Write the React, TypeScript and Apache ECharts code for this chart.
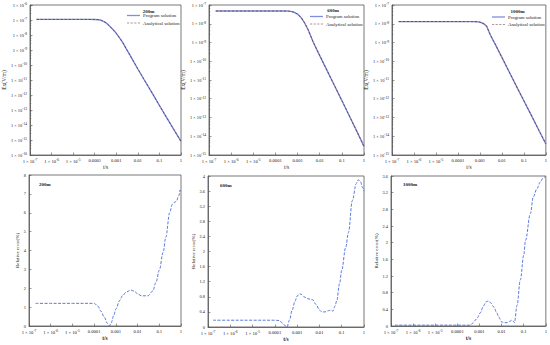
import React, { useEffect, useRef } from 'react';
import * as echarts from 'echarts';

// ---------- data ----------
const tEx = [2e-7, 1e-6, 1e-5, 5e-5, 1e-4, 1.5e-4, 2e-4, 3e-4, 4e-4, 5e-4, 7e-4, 1e-3, 1.5e-3, 2e-3, 3e-3, 4e-3, 5e-3, 1e-2, 2e-2, 5e-2, 0.1, 0.2, 0.5, 1];

const exProgram200 = [1.1e-7, 1.1e-7, 1.1e-7, 1.1e-7, 1.09e-7, 1.05e-7, 9.6e-8, 7.2e-8, 5.2e-8, 3.8e-8, 2.3e-8, 1.3e-8, 5.8e-9, 3.1e-9, 1.1e-9, 5.5e-10, 3.1e-10, 5.4e-11, 1.0e-11, 1.1e-12, 2.0e-13, 3.7e-14, 4.2e-15, 8.0e-16];
const exAnalytical200 = [1.1e-7, 1.1e-7, 1.1e-7, 1.1e-7, 1.09e-7, 1.05e-7, 9.6e-8, 7.2e-8, 5.2e-8, 3.8e-8, 2.3e-8, 1.3e-8, 5.8e-9, 3.1e-9, 1.1e-9, 5.5e-10, 3.1e-10, 5.4e-11, 1.0e-11, 1.1e-12, 2.0e-13, 3.7e-14, 4.2e-15, 8.0e-16];

const exProgram600 = [4.8e-8, 4.8e-8, 4.8e-8, 4.8e-8, 4.8e-8, 4.8e-8, 4.8e-8, 4.75e-8, 4.7e-8, 4.55e-8, 4.1e-8, 3.3e-8, 2.0e-8, 1.2e-8, 4.8e-9, 2.1e-9, 1.1e-9, 2.0e-10, 3.8e-11, 4.2e-12, 8.0e-13, 1.5e-13, 1.6e-14, 2.9e-15];
const exAnalytical600 = [4.8e-8, 4.8e-8, 4.8e-8, 4.8e-8, 4.8e-8, 4.8e-8, 4.8e-8, 4.75e-8, 4.7e-8, 4.55e-8, 4.1e-8, 3.3e-8, 2.0e-8, 1.2e-8, 4.8e-9, 2.1e-9, 1.1e-9, 2.0e-10, 3.8e-11, 4.2e-12, 8.0e-13, 1.5e-13, 1.6e-14, 2.9e-15];

const exProgram1000 = [1.3e-8, 1.3e-8, 1.3e-8, 1.3e-8, 1.3e-8, 1.3e-8, 1.3e-8, 1.3e-8, 1.3e-8, 1.3e-8, 1.29e-8, 1.22e-8, 1.0e-8, 7.5e-9, 2.5e-9, 1.3e-9, 8.0e-10, 1.6e-10, 3.2e-11, 3.8e-12, 7.8e-13, 1.6e-13, 1.9e-14, 3.9e-15];
const exAnalytical1000 = [1.3e-8, 1.3e-8, 1.3e-8, 1.3e-8, 1.3e-8, 1.3e-8, 1.3e-8, 1.3e-8, 1.3e-8, 1.3e-8, 1.29e-8, 1.22e-8, 1.0e-8, 7.5e-9, 2.5e-9, 1.3e-9, 8.0e-10, 1.6e-10, 3.2e-11, 3.8e-12, 7.8e-13, 1.6e-13, 1.9e-14, 3.9e-15];

const tErr200 = [2e-7, 1e-6, 1e-5, 1e-4, 1.5e-4, 2e-4, 3e-4, 4e-4, 5e-4, 6e-4, 8e-4, 1e-3, 1.5e-3, 2e-3, 3e-3, 5e-3, 7e-3, 1e-2, 1.5e-2, 2e-2, 3e-2, 5e-2, 7e-2, 0.1, 0.15, 0.2, 0.3, 0.4, 0.5, 0.6, 0.8, 0.9, 1];
const err200 = [1.2, 1.2, 1.2, 1.2, 1.05, 0.8, 0.45, 0.15, 0.0, 0.15, 0.55, 0.9, 1.35, 1.6, 1.8, 1.9, 1.85, 1.7, 1.6, 1.6, 1.6, 1.85, 2.3, 2.95, 3.9, 4.7, 6.0, 6.45, 6.55, 6.6, 6.9, 7.2, 7.1];

const tErr600 = [1.7e-7, 1e-6, 1e-5, 1e-4, 1.6e-4, 2.2e-4, 3e-4, 3.5e-4, 4.5e-4, 6e-4, 8e-4, 1e-3, 1.3e-3, 1.6e-3, 2e-3, 3e-3, 5e-3, 7e-3, 1e-2, 1.3e-2, 1.8e-2, 2.5e-2, 3.3e-2, 4e-2, 5e-2, 6e-2, 8e-2, 0.1, 0.15, 0.2, 0.3, 0.45, 0.55, 0.7, 0.85, 1];
const err600 = [0.18, 0.18, 0.18, 0.18, 0.17, 0.1, 0.03, 0.0, 0.18, 0.45, 0.68, 0.82, 0.88, 0.86, 0.8, 0.75, 0.72, 0.6, 0.45, 0.4, 0.4, 0.43, 0.45, 0.42, 0.55, 0.7, 1.15, 1.5, 2.1, 2.5, 3.35, 3.8, 3.9, 3.85, 3.7, 3.6];

const tErr1000 = [1.5e-7, 1e-6, 1e-5, 1e-4, 3.8e-4, 5e-4, 6.5e-4, 8e-4, 1.1e-3, 1.5e-3, 2e-3, 2.5e-3, 3e-3, 4.4e-3, 6e-3, 7.3e-3, 1e-2, 1.3e-2, 1.8e-2, 2.3e-2, 2.9e-2, 3.3e-2, 3.8e-2, 5e-2, 7e-2, 0.1, 0.12, 0.2, 0.27, 0.4, 0.55, 0.75, 1];
const err1000 = [0.02, 0.02, 0.02, 0.02, 0.02, 0.07, 0.14, 0.2, 0.32, 0.48, 0.58, 0.6, 0.57, 0.46, 0.32, 0.22, 0.1, 0.08, 0.08, 0.11, 0.14, 0.12, 0.08, 0.5, 1.1, 1.7, 2.05, 2.7, 3.1, 3.3, 3.45, 3.55, 3.6];

const offsetLabels = ['200m', '600m', '1000m'];
const legendNames = ['Program solution', 'Analytical solution'];
const xTickLabelsPlain = ['0.0001', '0.001', '0.01', '0.1', '1'];

// ---------- helpers ----------
const FONT = '"Liberation Serif", "Times New Roman", serif';
const pair = (t: number[], v: number[]) => t.map((x, i) => [x, v[i]]);

const supRich = {
  sup: { fontSize: 3.6, verticalAlign: 'top', padding: [0, 0, 2, 0], fontFamily: FONT, color: '#222' },
};

const xFormatter = (v: number) => {
  const e = Math.round(Math.log10(v));
  if (e >= -4) return xTickLabelsPlain[e + 4];
  return `1 × 10{sup|${e}}`;
};
const yLogFormatter = (v: number) => {
  const e = Math.round(Math.log10(v));
  return `1 × 10{sup|${e}}`;
};

export default function App() {
  const ref = useRef<HTMLDivElement>(null);
  useEffect(() => {
    if (!ref.current) return;
    const chart = echarts.init(ref.current, undefined, { renderer: 'svg' });

    const topGrids = [
      { left: 30, top: 5, width: 151, height: 150 },
      { left: 209, top: 5, width: 155, height: 150 },
      { left: 392, top: 5, width: 155, height: 150 },
    ];
    const botGrids = [
      { left: 29, top: 175, width: 152, height: 151 },
      { left: 208, top: 176, width: 156, height: 151 },
      { left: 391, top: 176, width: 155, height: 150 },
    ];
    const grid = [...topGrids, ...botGrids].map((g) => ({
      ...g,
      show: true,
      borderColor: '#555',
      borderWidth: 0.8,
      backgroundColor: 'transparent',
    }));

    const axisCommon = {
      axisLine: { show: true, lineStyle: { color: '#555', width: 0.8 } },
      axisTick: { show: true, inside: true, length: 2.5, lineStyle: { color: '#555', width: 0.6 } },
      splitLine: { show: false },
    };

    const xAxis = [0, 1, 2, 3, 4, 5].map((i) => ({
      ...axisCommon,
      type: 'log',
      logBase: 10,
      min: 1e-7,
      max: 1,
      splitNumber: 7,
      gridIndex: i,
      name: 't/s',
      nameLocation: 'middle',
      nameGap: 9,
      nameTextStyle: { fontSize: 5.5, fontFamily: FONT, color: '#222', fontWeight: i >= 3 ? 'bold' : 'normal' },
      axisLabel: {
        fontSize: 4.6,
        fontFamily: FONT,
        color: '#222',
        margin: 3,
        interval: 0,
        formatter: xFormatter,
        rich: supRich,
      },
    }));

    const yTopRanges = [
      [1e-16, 1e-6, 10],
      [1e-15, 1e-7, 8],
      [1e-15, 1e-7, 8],
    ];
    const yTop = yTopRanges.map((r, i) => ({
      ...axisCommon,
      type: 'log',
      logBase: 10,
      min: r[0],
      max: r[1],
      splitNumber: r[2],
      interval: 1,
      gridIndex: i,
      name: 'Ex(V/m)',
      nameLocation: 'middle',
      nameGap: 19,
      nameTextStyle: { fontSize: 5.5, fontFamily: FONT, color: '#222' },
      minorTick: { show: true, splitNumber: 5, length: 1.3, lineStyle: { color: '#555', width: 0.5 } },
      axisLabel: {
        fontSize: 4.4,
        fontFamily: FONT,
        color: '#222',
        margin: 3,
        interval: 0,
        formatter: yLogFormatter,
        rich: supRich,
      },
    }));
    const yBotRanges = [
      [0, 8, 1],
      [0, 4, 0.4],
      [0, 3.6, 0.4],
    ];
    const yBotGaps = [7, 10, 12];
    const yBot = yBotRanges.map((r, i) => ({
      ...axisCommon,
      type: 'value',
      min: r[0],
      max: r[1],
      interval: r[2],
      gridIndex: i + 3,
      name: 'Relative error(%)',
      nameLocation: 'middle',
      nameGap: yBotGaps[i],
      nameTextStyle: { fontSize: 5, fontFamily: FONT, color: '#222' },
      axisLabel: {
        fontSize: 4.4,
        fontFamily: FONT,
        color: '#222',
        margin: 3,
        formatter: (v: number) => String(+v.toFixed(1)),
      },
    }));

    const programColor = '#7f8ee0';
    const analyticColor = '#5a2d3a';
    const progData = [exProgram200, exProgram600, exProgram1000];
    const anaData = [exAnalytical200, exAnalytical600, exAnalytical1000];

    const series: any[] = [];
    for (let i = 0; i < 3; i++) {
      series.push({
        type: 'line',
        name: legendNames[0],
        xAxisIndex: i,
        yAxisIndex: i,
        data: pair(tEx, progData[i]),
        symbol: 'none',
        smooth: false,
        lineStyle: { color: programColor, width: 1.4 },
        itemStyle: { color: programColor },
      });
      series.push({
        type: 'line',
        name: legendNames[1],
        xAxisIndex: i,
        yAxisIndex: i,
        data: pair(tEx, anaData[i]),
        symbol: 'none',
        smooth: false,
        lineStyle: { color: analyticColor, width: 0.7, type: [2.5, 1.5] },
        itemStyle: { color: analyticColor },
      });
    }
    const errT = [tErr200, tErr600, tErr1000];
    const errV = [err200, err600, err1000];
    for (let i = 0; i < 3; i++) {
      series.push({
        type: 'line',
        name: 'err' + offsetLabels[i],
        xAxisIndex: i + 3,
        yAxisIndex: i + 3,
        data: pair(errT[i], errV[i]),
        symbol: 'none',
        smooth: 0.35,
        smoothMonotone: 'x',
        lineStyle: { color: '#4a6ad8', width: 0.9, type: [3, 1.5] },
      });
    }

    const legendPos = [
      { left: 127, top: 13 },
      { left: 310, top: 14 },
      { left: 492, top: 14.5 },
    ];
    const dashIcon = 'path://M0,0h3v1h-3zM5,0h3v1h-3zM10,0h3v1h-3zM15,0h3v1h-3z';
    const legend = legendPos.map((p) => ({
      ...p,
      orient: 'vertical',
      data: [
        { name: legendNames[0], icon: 'rect', itemStyle: { color: programColor } },
        { name: legendNames[1], icon: dashIcon, itemStyle: { color: analyticColor } },
      ],
      itemWidth: 13,
      itemHeight: 1.3,
      itemGap: 2.5,
      padding: 0,
      selectedMode: false,
      textStyle: { fontSize: 4.8, fontFamily: FONT, color: '#222', padding: [0, 0, 0, -2] },
    }));

    const topTitlePos = [[148.5, 11], [333, 10], [517.5, 11]];
    const botTitlePos = [[39, 184], [220, 185], [403, 184]];
    const graphic: any[] = [];
    offsetLabels.forEach((lab, i) => {
      graphic.push({
        type: 'text',
        x: topTitlePos[i][0],
        y: topTitlePos[i][1],
        style: { text: lab, fontSize: 5, fontWeight: 'bold', fontFamily: FONT, fill: '#222', align: 'center', verticalAlign: 'middle' },
      });
      graphic.push({
        type: 'text',
        x: botTitlePos[i][0],
        y: botTitlePos[i][1],
        style: { text: lab, fontSize: 5, fontWeight: 'bold', fontFamily: FONT, fill: '#222', align: 'left', verticalAlign: 'middle' },
      });
    });

    chart.setOption({
      animation: false,
      backgroundColor: '#fff',
      textStyle: { fontFamily: FONT },
      grid,
      xAxis,
      yAxis: [...yTop, ...yBot],
      legend,
      series,
      graphic,
    });
    return () => chart.dispose();
  }, []);

  return <div ref={ref} style={{ position: 'fixed', left: 0, top: 0, width: 550, height: 345 }} />;
}
